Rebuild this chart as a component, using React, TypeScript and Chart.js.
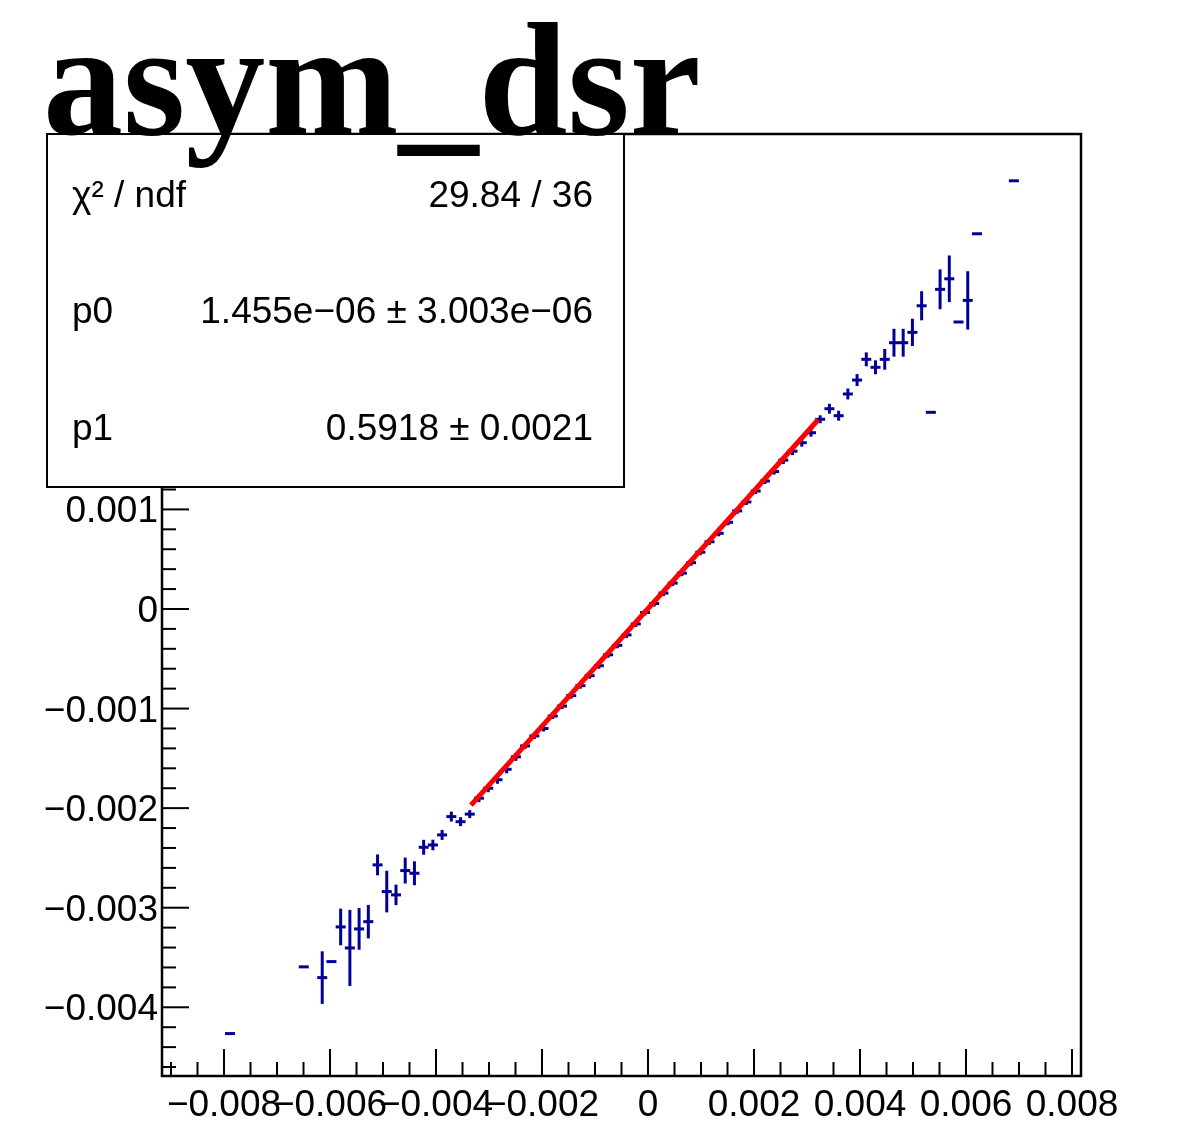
import React, { useEffect, useRef } from "react";
import { Chart, registerables } from "chart.js";

Chart.register(...registerables);

// ---------- data ----------
const binCenters = [
  -0.007887, -0.006495, -0.006147, -0.005973, -0.005799, -0.005625, -0.005451, -0.005277,
  -0.005103, -0.004929, -0.004755, -0.004581, -0.004407, -0.004233, -0.004059, -0.003885,
  -0.003711, -0.003537, -0.003363, -0.003189, -0.003015, -0.002841, -0.002667, -0.002493,
  -0.002319, -0.002145, -0.001971, -0.001797, -0.001623, -0.001449, -0.001275, -0.001101,
  -0.000927, -0.000753, -0.000579, -0.000405, -0.000231, -0.000057, 0.000117, 0.000291,
  0.000465, 0.000639, 0.000813, 0.000987, 0.001161, 0.001335, 0.001509, 0.001683,
  0.001857, 0.002031, 0.002205, 0.002379, 0.002553, 0.002727, 0.002901, 0.003075,
  0.003249, 0.003423, 0.003597, 0.003771, 0.003945, 0.004119, 0.004293, 0.004467,
  0.004641, 0.004815, 0.004989, 0.005163, 0.005337, 0.005511, 0.005685, 0.005859,
  0.006033, 0.006207, 0.006903,
];
const binValues = [
  -0.004264, -0.003594, -0.003702, -0.003541, -0.003193, -0.003404, -0.003213, -0.00314,
  -0.00257, -0.002838, -0.002871, -0.002627, -0.002654, -0.002393, -0.00237, -0.002269,
  -0.002085, -0.002136, -0.00206, -0.0019, -0.0018, -0.001715, -0.00161, -0.001485,
  -0.001375, -0.001275, -0.0012, -0.001075, -0.000975, -0.00087, -0.00077, -0.00067,
  -0.00057, -0.00046, -0.000365, -0.00026, -0.00015, -0.000035, 0.000055, 0.00016,
  0.00026, 0.00036, 0.000465, 0.00057, 0.000675, 0.00076, 0.00087, 0.000985,
  0.001075, 0.001185, 0.001285, 0.00138, 0.001495, 0.001585, 0.00167, 0.00177,
  0.001905, 0.002011, 0.001941, 0.002159, 0.002299, 0.002507, 0.002427, 0.002507,
  0.002674, 0.002674, 0.002778, 0.003045, 0.001975, 0.00321, 0.003316, 0.002882,
  0.003099, 0.003768, 0.0043,
];
const binErrors = [
  0, 0, 0.000264, 0, 0.000184, 0.000382, 0.000209, 0.000168,
  0.000105, 0.000209, 0.000103, 0.00013, 0.00012, 0.000075, 0.000053, 0.00005,
  0.00005, 0.000045, 0.00004, 0.00004, 0.00004, 0.00004, 0.00004, 0.00004,
  0.00003, 0.00003, 0.00003, 0.00003, 0.00003, 0.00003, 0.00003, 0.00003,
  0.00003, 0.00003, 0.00003, 0.00003, 0.00003, 0.00003, 0.00003, 0.00003,
  0.00003, 0.00003, 0.00003, 0.00003, 0.00003, 0.00003, 0.00003, 0.00003,
  0.00003, 0.00003, 0.00003, 0.00003, 0.00004, 0.00004, 0.00004, 0.00004,
  0.00004, 0.00005, 0.00005, 0.000055, 0.00006, 0.00007, 0.00007, 0.000104,
  0.00014, 0.00014, 0.000137, 0.000146, 0, 0.0002, 0.000234, 0,
  0.000293, 0, 0,
];

const fitX = [-0.00334, 0.00321];
const fitY = [-0.00197, 0.0019];

const xRange = [-0.00917, 0.00817];
const yRange = [-0.00469, 0.00477];

const xMajorTicks = [-0.008, -0.006, -0.004, -0.002, 0, 0.002, 0.004, 0.006, 0.008];
const xTickLabels = ["\u22120.008", "\u22120.006", "\u22120.004", "\u22120.002", "0", "0.002", "0.004", "0.006", "0.008"];
const yMajorTicks = [-0.004, -0.003, -0.002, -0.001, 0, 0.001, 0.002, 0.003, 0.004];
const yTickLabels = ["\u22120.004", "\u22120.003", "\u22120.002", "\u22120.001", "0", "0.001", "0.002", "0.003", "0.004"];
const xMinorStep = 0.0005;
const yMinorStep = 0.0002;

const statNames = ["\u03c7\u00b2 / ndf", "p0", "p1"];
const statValues = ["29.84 / 36", "1.455e\u221206 \u00b1 3.003e\u221206", "0.5918 \u00b1 0.0021"];
const titleText = "asym_dsr";

// ---------- style ----------
const NAVY = "#000099";
const SANS = "'Liberation Sans', Arial, sans-serif";
const SERIF = "'Liberation Serif', 'Times New Roman', serif";

const rootPlugin = {
  id: "rootStyle",
  beforeDraw(chart: any) {
    const { ctx, width, height } = chart;
    ctx.save();
    ctx.fillStyle = "#ffffff";
    ctx.fillRect(0, 0, width, height);
    ctx.restore();
  },
  beforeDatasetsDraw(chart: any) {
    const { ctx, chartArea: a, scales } = chart;
    const xs = scales.x;
    const ys = scales.y;
    ctx.save();
    ctx.beginPath();
    ctx.rect(a.left, a.top, a.right - a.left, a.bottom - a.top);
    ctx.clip();
    ctx.strokeStyle = NAVY;
    ctx.lineWidth = 3;
    ctx.lineCap = "butt";
    binCenters.forEach((cx, i) => {
      const e = binErrors[i];
      if (!e) return;
      const px = xs.getPixelForValue(cx);
      ctx.beginPath();
      ctx.moveTo(px, ys.getPixelForValue(binValues[i] - e));
      ctx.lineTo(px, ys.getPixelForValue(binValues[i] + e));
      ctx.stroke();
    });
    ctx.restore();
  },
  afterDatasetsDraw(chart: any) {
    const { ctx, chartArea: a, scales } = chart;
    const xs = scales.x;
    const ys = scales.y;
    const majorLen = 27;
    const minorLen = 14;
    ctx.save();
    ctx.strokeStyle = "#000";
    ctx.fillStyle = "#000";
    ctx.lineWidth = 2;
    // x ticks
    for (let v = -0.009; v <= xRange[1] + 1e-9; v += xMinorStep) {
      const px = xs.getPixelForValue(v);
      if (px < a.left || px > a.right) continue;
      const isMajor = xMajorTicks.some((t) => Math.abs(t - v) < 1e-7);
      ctx.beginPath();
      ctx.moveTo(px, a.bottom);
      ctx.lineTo(px, a.bottom - (isMajor ? majorLen : minorLen));
      ctx.stroke();
    }
    // y ticks
    for (let v = -0.0046; v <= yRange[1] + 1e-9; v += yMinorStep) {
      const py = ys.getPixelForValue(v);
      if (py < a.top || py > a.bottom) continue;
      const isMajor = yMajorTicks.some((t) => Math.abs(t - v) < 1e-7);
      ctx.beginPath();
      ctx.moveTo(a.left, py);
      ctx.lineTo(a.left + (isMajor ? majorLen : minorLen), py);
      ctx.stroke();
    }
    // frame
    ctx.lineWidth = 2.5;
    ctx.strokeRect(a.left, a.top, a.right - a.left, a.bottom - a.top);
    // labels
    ctx.font = `37px ${SANS}`;
    ctx.textBaseline = "alphabetic";
    ctx.textAlign = "center";
    xMajorTicks.forEach((t, i) => {
      ctx.fillText(xTickLabels[i], xs.getPixelForValue(t), a.bottom + 40);
    });
    ctx.textAlign = "right";
    yMajorTicks.forEach((t, i) => {
      ctx.fillText(yTickLabels[i], a.left - 4, ys.getPixelForValue(t) + 13);
    });
    // stats box
    const bx = 47, by = 134, bw = 577, bh = 353;
    ctx.fillStyle = "#fff";
    ctx.fillRect(bx, by, bw, bh);
    ctx.lineWidth = 2;
    ctx.strokeStyle = "#000";
    ctx.strokeRect(bx, by, bw, bh);
    ctx.fillStyle = "#000";
    ctx.font = `37px ${SANS}`;
    const rowBase = [207, 323, 440];
    statNames.forEach((n, i) => {
      ctx.textAlign = "left";
      ctx.fillText(n, 72, rowBase[i]);
      ctx.textAlign = "right";
      ctx.fillText(statValues[i], 593, rowBase[i]);
    });
    // title
    ctx.textAlign = "left";
    ctx.font = `bold 160px ${SERIF}`;
    ctx.fillText(titleText, 43, 134);
    ctx.restore();
  },
};

export default function App() {
  const ref = useRef<HTMLCanvasElement | null>(null);
  useEffect(() => {
    if (!ref.current) return;
    const chart = new Chart(ref.current, {
      type: "scatter",
      data: {
        datasets: [
          {
            type: "line",
            label: "fit",
            data: fitX.map((x, i) => ({ x, y: fitY[i] })),
            borderColor: "#ff0000",
            borderWidth: 5,
            pointRadius: 0,
            fill: false,
          } as any,
          {
            type: "scatter",
            label: "asym_dsr",
            data: binCenters.map((x, i) => ({ x, y: binValues[i] })),
            pointStyle: "line",
            pointRadius: 5,
            pointBorderWidth: 3,
            borderColor: NAVY,
            backgroundColor: NAVY,
            showLine: false,
          } as any,
        ],
      },
      options: {
        responsive: false,
        animation: false,
        devicePixelRatio: 1,
        layout: { padding: { left: 162, top: 134, right: 97, bottom: 68 } },
        plugins: { legend: { display: false }, tooltip: { enabled: false }, title: { display: false } },
        scales: {
          x: { type: "linear", min: xRange[0], max: xRange[1], display: false },
          y: { type: "linear", min: yRange[0], max: yRange[1], display: false },
        },
      },
      plugins: [rootPlugin],
    });
    return () => chart.destroy();
  }, []);
  return (
    <div style={{ position: "fixed", left: 0, top: 0, width: 1178, height: 1144, background: "#fff" }}>
      <canvas ref={ref} width={1178} height={1144} style={{ display: "block", width: 1178, height: 1144 }} />
    </div>
  );
}
